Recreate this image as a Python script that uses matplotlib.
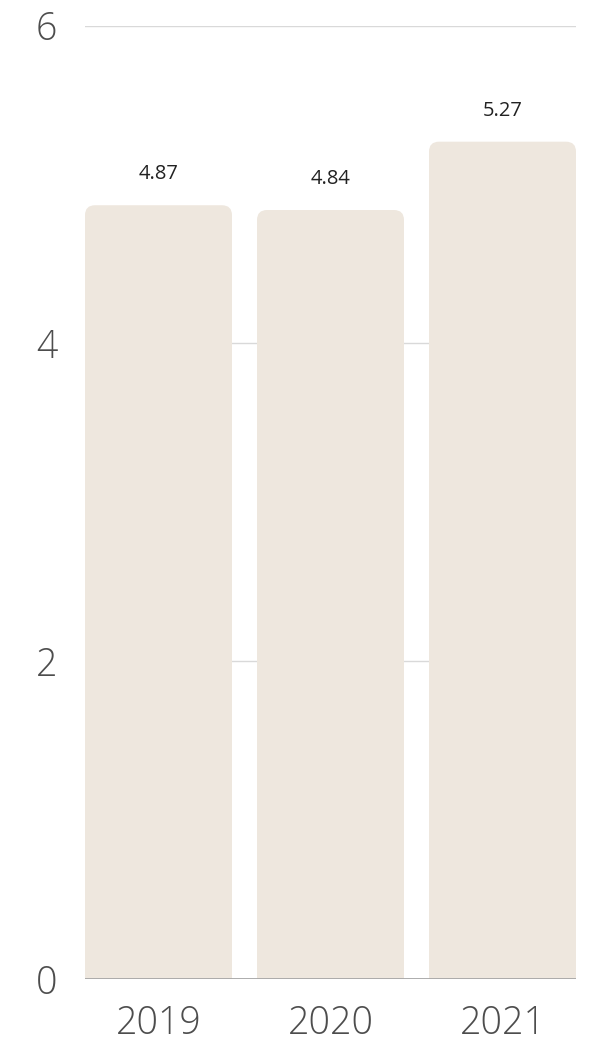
#!/usr/bin/env python3
# -*- coding: utf-8 -*-
"""Bar chart of yearly values with rounded bar tops."""

import matplotlib
matplotlib.use("Agg")
import matplotlib.pyplot as plt
from matplotlib.patches import FancyBboxPatch

years = ["2019", "2020", "2021"]
values = [4.87, 4.84, 5.27]
y_ticks = [0, 2, 4, 6]

BAR_COLOR = "#EEE7DE"
GRID_COLOR = "#D9D9D9"
TICK_COLOR = "#4D4D4D"

plt.rcParams["font.family"] = ["Open Sans", "DejaVu Sans"]

W, H, DPI = 604, 1039, 100
fig = plt.figure(figsize=(W / DPI, H / DPI), dpi=DPI)
left, right, bottom, top = 85, 576, 979, 25.7
ax = fig.add_axes([left / W, 1 - bottom / H, (right - left) / W, (bottom - top) / H])

width = 147 / 172
x = list(range(len(years)))
bars = ax.bar(x, values, width=width, color=BAR_COLOR, zorder=2)

ax.set_xlim(-width / 2, len(years) - 1 + width / 2)
ax.set_ylim(0, 6)

# swap plain rectangles for boxes with rounded top corners
ax_w_px = right - left
ax_h_px = bottom - top
x_per_px = (ax.get_xlim()[1] - ax.get_xlim()[0]) / ax_w_px
y_per_px = 6 / ax_h_px
aspect = y_per_px / x_per_px
radius = 10 * x_per_px
for rect in bars:
    bx, by = rect.get_x(), rect.get_y()
    bw, bh = rect.get_width(), rect.get_height()
    rect.set_visible(False)
    extra = radius * aspect * 1.5
    patch = FancyBboxPatch((bx, by - extra), bw, bh + extra,
                           boxstyle=f"round,pad=0,rounding_size={radius}",
                           mutation_aspect=aspect,
                           facecolor=BAR_COLOR, edgecolor="none", zorder=2)
    ax.add_patch(patch)
    ax.annotate(f"{bh:.2f}", (bx + bw / 2, bh), xytext=(0, 18.7), textcoords="offset points",
                ha="center", va="baseline", fontsize=14.5, color="#222222")

for t in y_ticks[1:]:
    ax.axhline(t, color=GRID_COLOR, linewidth=1.0, zorder=1)
ax.axhline(0, color="#A6A6A6", linewidth=1.3, zorder=3)

for s in ax.spines.values():
    s.set_visible(False)
ax.set_yticks(y_ticks)
ax.set_yticklabels([str(t) for t in y_ticks], fontweight="light")
ax.set_xticks(x)
ax.set_xticklabels(years, fontweight="light")
ax.tick_params(axis="y", length=0, pad=20, labelsize=27, labelcolor=TICK_COLOR)
ax.tick_params(axis="x", length=0, pad=18, labelsize=27, labelcolor=TICK_COLOR)

fig.savefig("out.png", dpi=DPI)
